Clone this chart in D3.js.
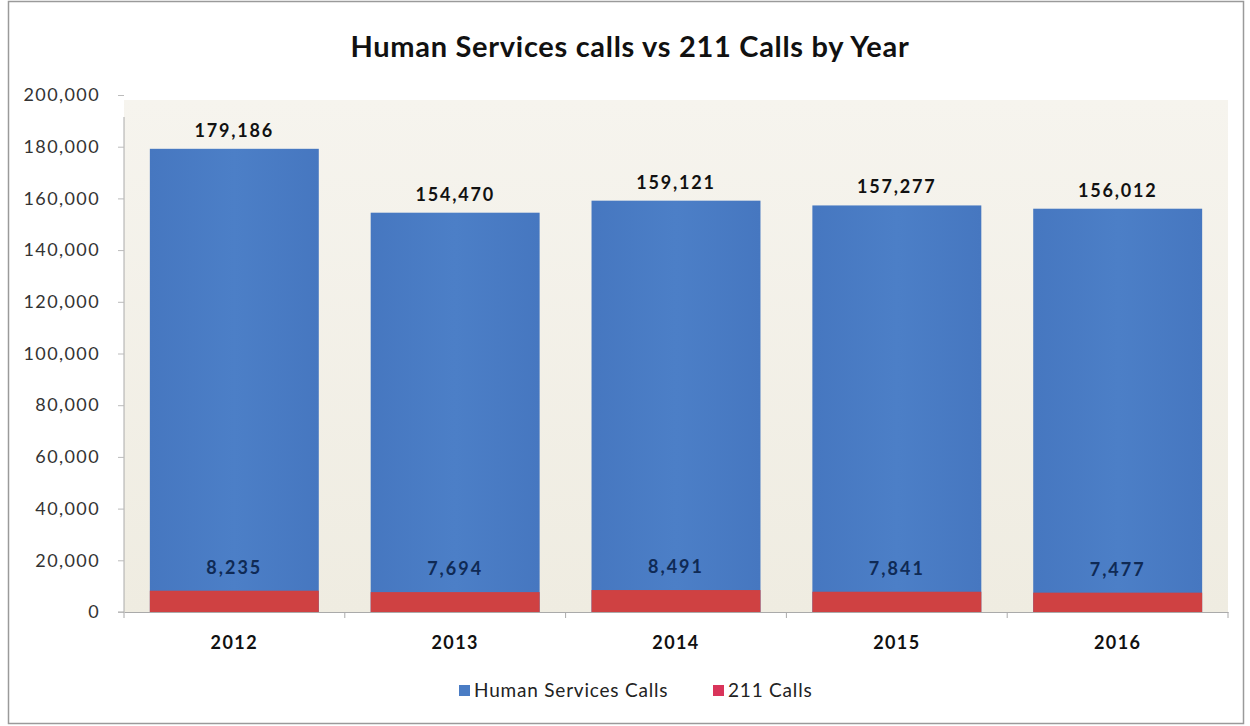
<!DOCTYPE html>
<html><head><meta charset="utf-8">
<script src="https://cdn.jsdelivr.net/npm/d3@7"></script>
<style>body{margin:0;background:#fff;}svg{display:block;font-family:Lato,"Open Sans",sans-serif;}</style>
</head><body><svg id="c" width="1250" height="726"></svg>
<script>
const years = ["2012","2013","2014","2015","2016"];
const humanServices = [179186,154470,159121,157277,156012];
const calls211 = [8235,7694,8491,7841,7477];
const yTicks = [0,20000,40000,60000,80000,100000,120000,140000,160000,180000,200000];
const seriesNames = ["Human Services Calls","211 Calls"];

const svg = d3.select("#c");
const m={l:124,r:1228,t:95,b:612};
const blue="#4a7cc4", red="#cf4142";

// outer frame
svg.append("rect").attr("x",8.5).attr("y",1.5).attr("width",1235).attr("height",722).attr("fill","#fff").attr("stroke","#9a9a9a").attr("stroke-width",1.5);

const defs=svg.append("defs");
const g1=defs.append("linearGradient").attr("id","bg").attr("x1",0).attr("y1",0).attr("x2",0).attr("y2",1);
g1.append("stop").attr("offset",0).attr("stop-color","#f6f4ee");
g1.append("stop").attr("offset",1).attr("stop-color","#efece1");
svg.append("rect").attr("x",m.l).attr("y",m.t+5).attr("width",m.r-m.l).attr("height",m.b-m.t-5).attr("fill","url(#bg)");

const x=d3.scaleBand().domain(years).range([m.l,m.r]).paddingInner(0.235).paddingOuter(0.117);
const y=d3.scaleLinear().domain([0,200000]).range([m.b,m.t]);

svg.append("text").attr("x",630).attr("y",57).attr("text-anchor","middle").attr("font-size",29).attr("font-weight","bold").attr("letter-spacing","0.7px").attr("fill","#111").text("Human Services calls vs 211 Calls by Year");

// bars
const bg=defs.append("linearGradient").attr("id","bb").attr("x1",0).attr("y1",0).attr("x2",1).attr("y2",0);
bg.append("stop").attr("offset",0).attr("stop-color","#4677c0");
bg.append("stop").attr("offset",0.5).attr("stop-color","#4c7fc7");
bg.append("stop").attr("offset",1).attr("stop-color","#4677c0");
svg.selectAll(".hb").data(years).join("rect").attr("class","hb")
  .attr("x",d=>x(d)).attr("width",x.bandwidth())
  .attr("y",(d,i)=>y(humanServices[i])).attr("height",(d,i)=>y(0)-y(humanServices[i])).attr("fill","url(#bb)");
svg.selectAll(".rb").data(years).join("rect").attr("class","rb")
  .attr("x",d=>x(d)).attr("width",x.bandwidth())
  .attr("y",(d,i)=>y(calls211[i])).attr("height",(d,i)=>y(0)-y(calls211[i])).attr("fill",red);

// axes
const ya=svg.append("g").attr("transform",`translate(${m.l},0)`)
  .call(d3.axisLeft(y).tickValues(yTicks).tickFormat(d3.format(",")).tickSize(6).tickPadding(18));
ya.select(".domain").attr("stroke","#aaa").attr("d",`M-6,${m.b}H0V${m.t+22}`);
ya.selectAll(".tick line").attr("stroke","#bbb");
ya.selectAll("text").attr("font-size",18).attr("letter-spacing","1.4px").attr("fill","#333").attr("font-family","Lato,sans-serif");

const xa=svg.append("g").attr("transform",`translate(0,${m.b})`)
  .call(d3.axisBottom(x).tickSize(0).tickPadding(24));
xa.select(".domain").attr("stroke","#aaa");
xa.selectAll("text").attr("font-size",18).attr("font-weight","bold").attr("letter-spacing","1.4px").attr("fill","#111").attr("font-family","Lato,sans-serif");
const seps=[0,1,2,3,4,5].map(i=>m.l+i*(m.r-m.l)/5);
svg.selectAll(".sep").data(seps).join("line").attr("x1",d=>d).attr("x2",d=>d).attr("y1",m.b).attr("y2",m.b+6).attr("stroke","#aaa");

// labels
svg.selectAll(".hl").data(years).join("text").attr("x",d=>x(d)+x.bandwidth()/2)
  .attr("y",(d,i)=>y(humanServices[i])-12).attr("text-anchor","middle").attr("font-size",18).attr("font-weight","bold").attr("letter-spacing","1.8px").attr("fill","#111")
  .text((d,i)=>d3.format(",")(humanServices[i]));
svg.selectAll(".rl").data(years).join("text").attr("x",d=>x(d)+x.bandwidth()/2)
  .attr("y",(d,i)=>y(calls211[i])-17).attr("text-anchor","middle").attr("font-size",18).attr("font-weight","bold").attr("letter-spacing","2px").attr("fill","#0f2a55")
  .text((d,i)=>d3.format(",")(calls211[i]));

// legend
const lg=svg.append("g").attr("transform","translate(459,692)");
lg.append("rect").attr("x",0).attr("y",-7).attr("width",11).attr("height",11).attr("fill",blue);
lg.append("text").attr("x",15).attr("y",5).attr("font-size",19).attr("letter-spacing","0.8px").attr("fill","#222").text(seriesNames[0]);
lg.append("rect").attr("x",254).attr("y",-7).attr("width",11).attr("height",11).attr("fill","#d9345a");
lg.append("text").attr("x",269).attr("y",5).attr("font-size",19).attr("letter-spacing","0.8px").attr("fill","#222").text(seriesNames[1]);
</script></body></html>
